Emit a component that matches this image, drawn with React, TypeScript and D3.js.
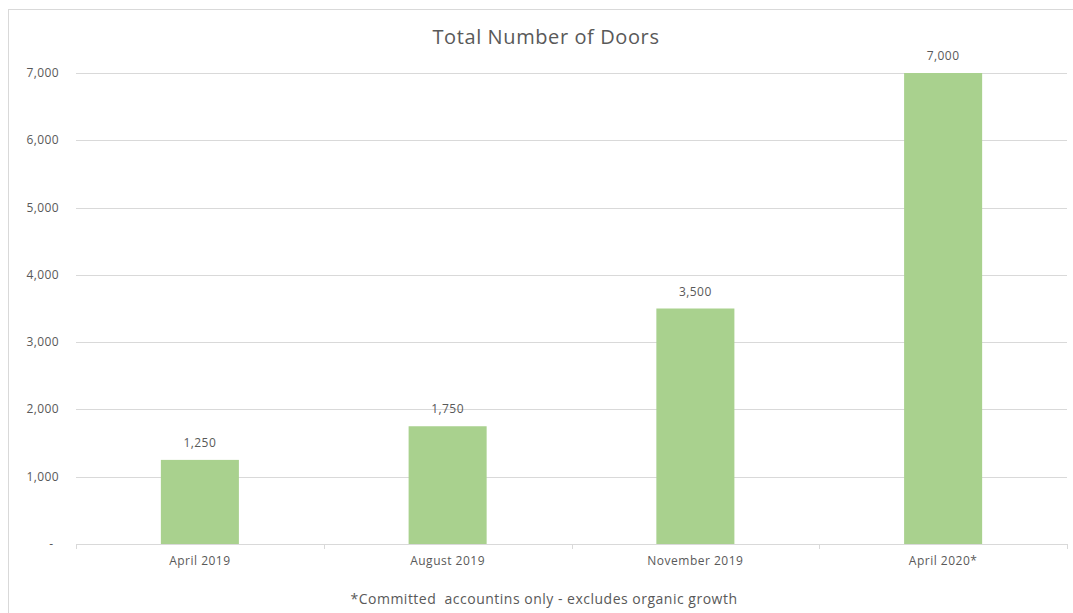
import React from "react";
import * as d3 from "d3";

const categories = ["April 2019", "August 2019", "November 2019", "April 2020*"];
const doors = [1250, 1750, 3500, 7000];
const yTicks = [0, 1000, 2000, 3000, 4000, 5000, 6000, 7000];
const title = "Total Number of Doors";
const footnote = "*Committed  accountins only - excludes organic growth";

const W = 1073;
const H = 613;
const plot = { left: 76, right: 1067, top: 73, bottom: 544 };
const FONT = "'Open Sans', Lato, sans-serif";
const TEXT = "#595959";
const GRID = "#D9D9D9";
const BAR = "#A9D18E";

export default function App() {
  const x = d3
    .scaleBand<string>()
    .domain(categories)
    .range([plot.left, plot.right])
    .paddingInner(0.685)
    .paddingOuter(0.3425);
  const y = d3.scaleLinear().domain([0, 7000]).range([plot.bottom, plot.top]);
  const fmt = d3.format(",");
  const step = x.step();
  const boundaries = d3.range(categories.length + 1).map((i) => plot.left + i * step);

  return (
    <svg
      width={W}
      height={H}
      style={{ position: "absolute", left: 0, top: 0, background: "#fff" }}
      fontFamily={FONT}
    >
      <rect x={8.5} y={9.5} width={1080} height={620} fill="#fff" stroke={GRID} strokeWidth={1} />
      <text x={546} y={44} textAnchor="middle" fontSize={20} fill={TEXT} letterSpacing={0.6}>
        {title}
      </text>
      {yTicks.map((t) => (
        <g key={t}>
          <line
            x1={plot.left}
            x2={plot.right}
            y1={Math.round(y(t)) + 0.5}
            y2={Math.round(y(t)) + 0.5}
            stroke={GRID}
            strokeWidth={1}
          />
          <text
            x={t === 0 ? 53 : 59}
            y={y(t) + 4}
            textAnchor="end"
            fontSize={12}
            fill={TEXT}
            letterSpacing={t === 0 ? 0 : 0.4}
          >
            {t === 0 ? "-" : fmt(t)}
          </text>
        </g>
      ))}
      {boundaries.map((b, i) => (
        <line
          key={i}
          x1={Math.round(b) + 0.5}
          x2={Math.round(b) + 0.5}
          y1={plot.bottom}
          y2={plot.bottom + 5}
          stroke={GRID}
        />
      ))}
      {categories.map((c, i) => (
        <g key={c}>
          <rect
            x={x(c)}
            y={y(doors[i])}
            width={x.bandwidth()}
            height={plot.bottom - y(doors[i])}
            fill={BAR}
          />
          <text
            x={(x(c) as number) + x.bandwidth() / 2}
            y={y(doors[i]) - 13}
            textAnchor="middle"
            fontSize={12}
            fill={TEXT}
            letterSpacing={0.4}
          >
            {fmt(doors[i])}
          </text>
          <text
            x={(x(c) as number) + x.bandwidth() / 2}
            y={565}
            textAnchor="middle"
            fontSize={12}
            fill={TEXT}
            letterSpacing={0.5}
          >
            {c}
          </text>
        </g>
      ))}
      <text
        x={544}
        y={604}
        textAnchor="middle"
        fontSize={14}
        fill={TEXT}
        letterSpacing={0.5}
        style={{ whiteSpace: "pre" }}
      >
        {footnote}
      </text>
    </svg>
  );
}
